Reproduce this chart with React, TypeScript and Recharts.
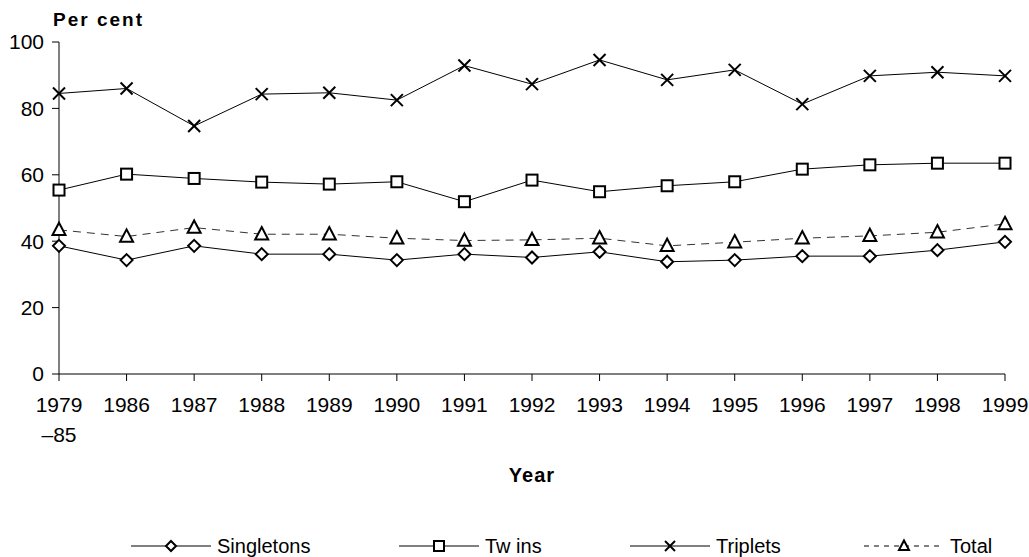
import React from 'react';
import { LineChart, Line, XAxis, YAxis } from 'recharts';

const categories = ['1979–85', '1986', '1987', '1988', '1989', '1990', '1991', '1992', '1993', '1994', '1995', '1996', '1997', '1998', '1999'];
const singletons = [38.6, 34.3, 38.6, 36.1, 36.1, 34.3, 36.1, 35.1, 36.8, 33.8, 34.3, 35.5, 35.5, 37.3, 39.8];
const twins = [55.4, 60.2, 58.9, 57.8, 57.2, 57.9, 51.9, 58.4, 54.9, 56.7, 57.9, 61.7, 63.0, 63.5, 63.5];
const triplets = [84.5, 86.0, 74.7, 84.3, 84.7, 82.5, 92.9, 87.3, 94.6, 88.6, 91.6, 81.3, 89.8, 90.9, 89.8];
const total = [43.4, 41.4, 44.1, 42.1, 42.1, 40.9, 40.2, 40.4, 40.9, 38.6, 39.7, 40.9, 41.6, 42.7, 45.2];
const yTicks = [0, 20, 40, 60, 80, 100];
const seriesNames = ['Singletons', 'Twins', 'Triplets', 'Total'];
const legendLabels = ['Singletons', 'Tw ins', 'Triplets', 'Total'];

const data = categories.map((c, i) => ({
  year: c,
  Singletons: singletons[i],
  Twins: twins[i],
  Triplets: triplets[i],
  Total: total[i],
}));

const FONT = '"Liberation Sans", Arial, sans-serif';

const diamond = (cx: number, cy: number, r: number) =>
  `M${cx},${cy - r} L${cx + r},${cy} L${cx},${cy + r} L${cx - r},${cy} Z`;
const triangle = (cx: number, cy: number, r: number) =>
  `M${cx},${cy - r * 1.1} L${cx + r},${cy + r * 0.8} L${cx - r},${cy + r * 0.8} Z`;

function Marker({ kind, cx, cy, r }: { kind: string; cx: number; cy: number; r: number }) {
  if (kind === 'Singletons') return <path d={diamond(cx, cy, r)} fill="#fff" stroke="#000" strokeWidth={2} />;
  if (kind === 'Twins') return <rect x={cx - r} y={cy - r} width={2 * r} height={2 * r} fill="#fff" stroke="#000" strokeWidth={2} />;
  if (kind === 'Triplets')
    return (
      <g stroke="#000" strokeWidth={2}>
        <line x1={cx - r} y1={cy - r} x2={cx + r} y2={cy + r} />
        <line x1={cx - r} y1={cy + r} x2={cx + r} y2={cy - r} />
      </g>
    );
  return <path d={triangle(cx, cy, r)} fill="#fff" stroke="#000" strokeWidth={2} />;
}

const dotFor = (kind: string, r: number) => (props: any) => (
  <g key={`${kind}-${props.index}`}>
    <Marker kind={kind} cx={props.cx} cy={props.cy} r={r} />
  </g>
);

const XTick = (props: any) => {
  const { x, y, payload } = props;
  const parts = String(payload.value).split('–');
  return (
    <g>
      <text x={x} y={y} dy="0.71em" textAnchor="middle" fontSize={21} fontFamily={FONT} fill="#000">
        {parts[0]}
      </text>
      {parts.length > 1 && (
        <text x={x} y={y + 30} dy="0.71em" textAnchor="middle" fontSize={21} fontFamily={FONT} fill="#000">
          {'–' + parts[1]}
        </text>
      )}
    </g>
  );
};

const legendLeft = [131, 399, 630, 864];

export default function App() {
  return (
    <div style={{ position: 'absolute', left: 0, top: 0, width: 1029, height: 557, background: '#fff', fontFamily: FONT }}>
      <LineChart width={1029} height={557} data={data} margin={{ top: 42, right: 24, bottom: 0, left: 0 }}>
        <XAxis
          dataKey="year"
          height={183}
          tickSize={7}
          tickMargin={16}
          tick={<XTick />}
          interval={0}
          stroke="#000"
          axisLine={{ stroke: '#000' }}
          tickLine={{ stroke: '#000' }}
        />
        <YAxis
          domain={[0, 100]}
          ticks={yTicks}
          width={59}
          tickSize={7}
          tickMargin={8}
          interval={0}
          stroke="#000"
          tick={{ fontSize: 21, fontFamily: FONT, fill: '#000' }}
        />
        <Line dataKey="Triplets" stroke="#000" strokeWidth={1} dot={dotFor('Triplets', 6)} isAnimationActive={false} />
        <Line dataKey="Twins" stroke="#000" strokeWidth={1} dot={dotFor('Twins', 5.5)} isAnimationActive={false} />
        <Line dataKey="Total" stroke="#333" strokeWidth={1} strokeDasharray="8 6" dot={dotFor('Total', 6.5)} isAnimationActive={false} />
        <Line dataKey="Singletons" stroke="#000" strokeWidth={1} dot={dotFor('Singletons', 6)} isAnimationActive={false} />
      </LineChart>
      <div style={{ position: 'absolute', left: 53, top: 8, fontSize: 19, fontWeight: 'bold', letterSpacing: 2, lineHeight: '24px' }}>
        Per cent
      </div>
      <div style={{ position: 'absolute', left: 0, width: 1064, top: 462, textAlign: 'center', fontSize: 20, fontWeight: 'bold', letterSpacing: 1, lineHeight: '26px' }}>
        Year
      </div>
      {seriesNames.map((name, i) => (
        <div key={name} style={{ position: 'absolute', left: legendLeft[i], top: 533, height: 26, display: 'flex', alignItems: 'center' }}>
          <svg width={80} height={26}>
            <line x1={0} y1={13} x2={80} y2={13} stroke="#000" strokeWidth={1} strokeDasharray={name === 'Total' ? '5 5' : undefined} />
            <Marker kind={name} cx={40} cy={13} r={5} />
          </svg>
          <span style={{ marginLeft: 6, fontSize: 20, color: '#000' }}>{legendLabels[i]}</span>
        </div>
      ))}
    </div>
  );
}
